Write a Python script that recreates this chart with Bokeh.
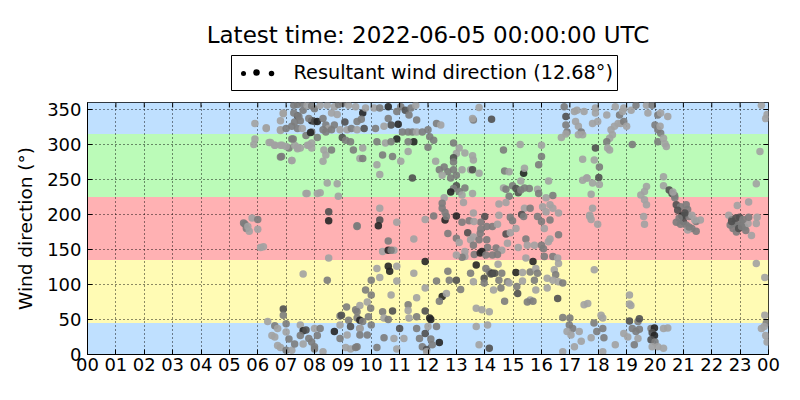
from bokeh.plotting import figure
from bokeh.layouts import column
from bokeh.models import Range1d, FixedTicker, ColumnDataSource
from bokeh.core.properties import value
from bokeh.embed import file_html
from bokeh.resources import INLINE
import sys

FONT = "DejaVu Sans"
AXIS_FONT = "'DejaVu Sans', 'DejaVu Sans Book', sans-serif"

title_text = "Latest time: 2022-06-05 00:00:00 UTC"
legend_text = "Resultant wind direction (12.68°)"
y_label = "Wind direction (°)"

hour_min, hour_max = 0, 24
dir_min, dir_max = 0, 360
x_ticks = list(range(0, 25))
x_tick_labels = {h: "%02d" % (h % 24) for h in x_ticks}
y_ticks = [0, 50, 100, 150, 200, 250, 300, 350]

band_lo = [0, 45, 135, 225, 315]
band_hi = [45, 135, 225, 315, 360]
band_colors = ["#bfe0ff", "#fffbb4", "#ffb1b3", "#bbfbb8", "#bfe0ff"]

shade_colors = {"K": "#262626", "D": "#505050", "M": "#7c7c7c", "L": "#a2a2a2"}

# ---- observations (hour of day, direction in degrees, shade code) ----
h1 = [5.5, 5.6, 5.7, 5.8, 6.0, 6.0, 6.1, 6.2, 5.55, 5.65]
d1 = [188, 180, 176, 195, 193, 179, 153, 154, 186, 183]
s1 = "MMLLMLLLML"

h2 = [5.9, 6.3, 5.9, 5.86, 6.4, 6.6, 6.8, 6.8, 6.8, 6.9, 6.8, 7.1, 7.2, 7.2, 7.3, 7.4, 7.3, 7.4, 7.5, 7.6, 7.9, 7.8, 7.7, 8.1, 7.9, 8.0]
d2 = [330, 323, 308, 300, 303, 299, 320, 282, 299, 344, 334, 295, 277, 308, 299, 294, 332, 341, 334, 349, 318, 299, 230, 230, 334, 351]
s2 = "LLLLLLLMLLLMLMLLMDMMMLLLKM"

h3 = [7.27, 7.4, 7.57, 7.74, 7.9, 8.2, 8.45, 8.7, 8.85, 9.0, 9.2, 9.45, 6.9, 7.27, 7.45, 7.8, 8.0, 8.1, 8.3, 8.4, 8.5, 8.7, 8.9, 9.15, 9.3, 9.5, 9.07, 8.8, 8.6]
d3 = [356, 357, 359, 356, 355, 356, 356, 354, 357, 359, 356, 354, 345, 345, 340, 337, 333, 333, 337, 328, 323, 328, 321, 321, 323, 333, 332, 343, 345]
s3 = "MMMLMLLLMMLLLMMMDKMMLMLLMMDLL"

h4 = [6.3, 6.8, 7.0, 7.2, 7.4, 7.57, 7.7, 7.86, 8.1, 7.9, 7.75, 7.9, 8.3, 8.4, 8.6, 8.98, 9.27, 9.1, 6.45, 6.6, 6.86, 7.0, 7.25, 7.4, 7.5, 6.84, 7.2, 8.33, 8.4, 8.3, 8.6, 9.37, 9.6]
d4 = [324, 321, 323, 326, 323, 323, 313, 317, 310, 302, 299, 295, 321, 318, 321, 310, 304, 306, 303, 299, 299, 297, 308, 296, 295, 283, 277, 292, 285, 276, 292, 292, 280]
s4 = "LLMMMLMKMLLLMMMDMMLLLLMLLMLLLLMML"

h5 = [8.45, 8.8, 7.74, 8.2, 8.84, 8.5, 8.5, 9.5, 8.5, 7.6, 8.45]
d5 = [245, 244, 230, 231, 226, 204, 191, 184, 138, 115, 106]
s5 = "LLLLLDKMLLM"

h6 = [6.35, 6.6, 6.7, 6.5, 6.6, 6.9, 6.9, 7.0, 7.0, 7.1, 6.7, 6.8, 7.0, 7.2, 7.3, 7.5, 7.6, 7.5, 7.6, 7.9, 8.0, 8.0, 8.1]
d6 = [47, 41, 37, 27, 25, 65, 56, 44, 32, 22, 13, 10, 6, 6, 15, 42, 34, 27, 15, 18, 8, 37, 27]
s6 = "LMLLLDMMLMLLMLMLKMLMMLM"

h7 = [7.7, 7.8, 8.2, 8.3, 8.7, 8.9, 8.9, 8.95, 9.13, 9.2, 9.27, 9.45, 9.5, 9.6, 9.15, 8.9, 9.1, 9.27, 9.45, 8.0]
d7 = [35, 23, 37, 4, 33, 55, 42, 56, 68, 49, 40, 64, 52, 37, 28, 23, 10, 8, 10, 11]
s7 = "DMMLKMLDMMDMMMLMLLMM"

h8 = [9.7, 9.65, 9.8, 10.1, 10.3, 10.6, 10.9, 11.04, 11.2, 11.4,
      11.57, 11.33, 11.6, 10.6, 10.7, 10.95, 10.45, 10.15, 9.5, 9.75,
      11.1, 11.3, 11.45, 11.6, 11.8, 12.0, 12.3, 12.45, 12.06, 12.2,
      10.9, 10.2, 10.5, 10.7, 11.5, 11.3, 12.0, 12.9, 13.0, 12.9,
      12.9, 13.1, 13.3, 13.6, 13.6]
d8 = [345, 336, 352, 352, 352, 354, 347, 354, 349, 352,
      356, 342, 335, 337, 328, 329, 326, 323, 321, 323,
      318, 318, 318, 318, 318, 321, 330, 328, 311, 306,
      308, 304, 302, 304, 304, 304, 296, 302, 287, 281,
      275, 295, 288, 335, 278]
s8 = "KMLLMKMMDM" "LMMMDKLMLD" "MMMLMMMLMM" "KMLMKMMMLD" "MLLML"

h9 = [9.7, 9.7, 10.4, 10.75, 11.04, 11.3, 10.2, 10.3, 11.45, 12.27,
      12.57, 12.4, 12.7, 12.5, 12.9, 13.0, 13.2, 13.5, 12.8, 13.0,
      12.9, 12.8, 13.1, 13.3, 13.2, 12.57, 12.5, 12.5, 12.6, 13.25,
      13.6]
d9 = [295, 280, 285, 283, 276, 290, 271, 257, 252, 276,
      268, 264, 261, 256, 264, 256, 264, 264, 252, 241,
      237, 232, 233, 238, 228, 224, 216, 209, 203, 217,
      202]
s9 = "LMMMLLLLDL" "MMMLMMLLMD" "MKMMLLMMML" "L"

h10 = [10.3, 10.3, 10.25, 9.5, 10.9, 11.9, 12.2, 12.6, 12.65, 13.0,
       13.2, 13.45, 12.7, 13.0, 13.4, 13.1, 13.5, 10.6, 11.5, 10.4,
       10.6, 10.8, 10.7, 13.3, 13.3, 13.2, 13.0, 13.6, 11.9]
d10 = [209, 192, 184, 183, 189, 193, 198, 192, 197, 198,
       189, 191, 173, 166, 174, 160, 164, 162, 165, 147,
       149, 149, 149, 147, 140, 139, 142, 156, 133]
s10 = "LDKMLLMKMK" "MMMMDLLMLL" "KLMLLMLMK"

h11 = [10.6, 10.65, 10.9, 10.2, 10.3, 10.0, 10.9, 11.5, 12.3, 12.7,
       12.75, 13.0, 13.5, 13.6, 9.8, 10.0, 10.7, 11.9, 11.6, 12.5,
       12.4, 12.65, 13.15]
d11 = [126, 119, 126, 123, 110, 106, 105, 116, 105, 119,
       106, 106, 116, 104, 92, 85, 85, 95, 81, 83,
       76, 87, 93]
s11 = "KKLLLMLLMM" "MDMLMMLLLK" "MLM"

h12 = [9.86, 9.98, 9.6, 9.5, 9.9, 9.6, 9.7, 9.6, 10.0, 10.4,
       10.75, 10.45, 10.6, 11.3, 11.3, 11.33, 11.6, 11.9, 12.06, 12.1,
       12.3, 12.0, 11.6, 11.0, 9.6, 9.86, 10.45, 10.8, 11.15, 11.7,
       11.9, 12.1, 12.4, 9.5, 10.2, 10.9, 11.8, 11.95, 12.15, 11.95]
d12 = [75, 66, 70, 61, 54, 49, 47, 37, 42, 61,
       62, 52, 50, 71, 63, 52, 54, 62, 52, 50,
       40, 40, 37, 37, 28, 28, 24, 23, 23, 23,
       30, 22, 17, 11, 10, 8, 11, 7, 14, 4]
s12 = "LMLMMKMLMM" "DLMMLLMDKK" "MLMDMMMLLM" "DMKMMLMDML"

h13 = [13.57, 14.24, 13.8, 16.8, 16.86, 16.86, 16.9, 16.86, 16.7, 17.16,
       17.25, 17.2, 17.3, 17.4, 17.45, 17.3, 17.5]
d13 = [337, 336, 353, 354, 340, 328, 318, 315, 310, 347,
       349, 333, 326, 318, 314, 314, 347]
s13 = "LDLMDMMLLL" "LLLMLLL"

h14 = [15.25, 14.66, 16.0, 16.0, 15.9, 13.57, 13.57, 13.8, 14.7, 14.86,
       15.37, 15.4, 15.27, 16.25, 17.45, 17.45, 17.6]
d14 = [300, 292, 299, 283, 271, 284, 264, 259, 262, 261,
       259, 266, 248, 248, 279, 249, 252]
s14 = "LMLMMLDLML" "KLLLLLL"

h15 = [14.66, 14.75, 14.98, 15.1, 15.18, 15.27, 15.4, 15.57, 15.86, 15.9,
       16.16, 16.4, 14.86, 14.75, 14.5, 13.57]
d15 = [238, 236, 241, 237, 231, 235, 238, 237, 236, 230,
       224, 227, 226, 217, 215, 230]
s15 = "LMMDDMMMLM" "LMMLLL"

h16 = [15.4, 15.6, 16.04, 16.3, 16.4, 16.16, 16.6, 14.5, 14.9, 15.3,
       15.37, 15.86, 16.0, 16.3, 14.0, 13.86, 13.62, 14.27, 14.45, 14.07,
       14.98, 15.1, 16.1, 17.7]
d16 = [209, 209, 211, 214, 209, 204, 202, 199, 196, 200,
       197, 197, 190, 192, 197, 189, 190, 183, 186, 183,
       191, 180, 180, 197]
s16 = "LMLLLLLLMD" "MMMMDMLMLM" "MLLL"

h17 = [13.86, 13.84, 14.75, 14.9, 13.6, 13.8, 14.07, 14.8, 15.45, 15.75,
       16.0, 16.24, 16.3, 16.6, 14.1, 14.4, 14.6, 15.18, 15.5, 16.07,
       13.63, 13.84, 13.9, 14.04, 14.27, 14.45, 15.45, 16.1, 16.4, 16.57]
d17 = [179, 173, 172, 174, 168, 164, 164, 159, 165, 156,
       156, 161, 165, 171, 153, 152, 149, 153, 156, 151,
       143, 145, 147, 142, 142, 143, 138, 140, 140, 138]
s17 = "MMDLLMMLML" "MLLMMMLLLM" "MKKMMMLMML"

h18 = [13.7, 14.04, 14.47, 14.16, 14.27, 14.22, 14.35, 14.6, 13.98, 14.5,
       14.8, 15.1, 15.33, 15.7, 15.6, 15.8, 15.86, 15.75, 15.33, 16.45,
       16.5, 16.6, 16.4, 16.6, 16.2, 16.75, 13.98, 14.31, 14.57, 14.86,
       15.13, 15.16, 15.8, 15.6, 15.5, 15.7, 16.57, 16.2, 14.7, 13.7,
       13.9, 14.16, 17.5, 16.75]
d18 = [128, 123, 129, 118, 116, 115, 116, 116, 109, 106,
       104, 117, 117, 133, 118, 123, 116, 106, 105, 121,
       114, 130, 106, 104, 109, 102, 102, 92, 95, 102,
       97, 87, 92, 78, 75, 76, 80, 95, 76, 66,
       64, 61, 71, 53]
s18 = "KMLMKDDMDM" "MKLKMLMMLL" "MLLLLMMLML" "MDLLMMDLML" "LLLM"

h19 = [17.0, 16.98, 17.1, 16.9, 17.04, 17.33, 17.4, 17.16, 16.75, 13.7, 14.1, 13.8, 14.16]
d19 = [52, 42, 37, 33, 28, 33, 19, 11, 4, 40, 42, 14, 9]
s19 = "MMMLLLLLLLLLD"

h20 = [17.9, 17.9, 18.3, 18.6, 18.75, 18.86, 18.9, 19.16, 19.33, 19.7,
       19.9, 19.75, 20.1, 20.2, 20.45, 17.8, 17.98, 18.45, 18.57, 18.7,
       18.8, 18.9, 19.0, 18.5, 18.4, 18.3, 18.33, 18.4, 19.2, 20.0,
       20.1, 20.2, 20.18, 20.1, 20.3, 20.4, 20.35]
d20 = [352, 345, 342, 354, 342, 347, 352, 349, 356, 356,
       356, 345, 342, 345, 340, 330, 333, 321, 326, 330,
       330, 333, 326, 314, 309, 304, 295, 292, 300, 328,
       321, 316, 326, 304, 309, 297, 301]
s20 = "LLLLMLLLML" "MLMLLLLLLL" "LMLLLMLLMM" "MMLMLLL"

h21 = [17.9, 17.86, 18.04, 18.02, 17.6, 17.8, 18.04, 17.75, 20.3, 20.3,
       19.7, 19.63, 19.5, 19.63, 19.7, 20.5, 20.6, 20.7]
d21 = [295, 278, 268, 253, 252, 245, 243, 229, 254, 241,
       240, 233, 228, 221, 214, 235, 230, 224]
s21 = "DLMDLLLLLL" "LLLLLDDM"

h22 = [17.8, 17.7, 17.75, 17.98, 19.6, 19.63, 20.75, 20.9, 20.8, 21.1,
       21.15, 20.95, 21.04, 20.75, 21.0, 21.2, 21.3, 21.45, 21.6, 21.1,
       21.3, 21.45, 21.15, 20.9, 20.69, 20.63, 21.2, 21.4, 20.85, 21.05]
d22 = [209, 199, 193, 186, 197, 186, 214, 211, 206, 214,
       207, 198, 199, 189, 190, 197, 199, 190, 192, 185,
       180, 176, 178, 186, 227, 232, 182, 192, 195, 202]
s22 = "LLLLLLDMDM" "MKDMDMLMLM" "MMLMMLMLMD"

h23 = [17.86, 19.1, 19.1, 19.15, 18.1, 18.16, 17.63]
d23 = [121, 85, 72, 70, 56, 52, 73]
s23 = "LLLLLLL"

h24 = [19.1, 19.4, 19.45, 19.2, 19.33, 19.4, 19.27, 19.04, 18.9, 19.45,
       19.86, 19.98, 19.9, 19.98, 19.86, 20.0, 19.9, 20.1, 20.3, 20.3,
       20.45, 18.16, 18.2, 17.75, 18.6, 18.16, 17.85, 17.95]
d24 = [48, 47, 51, 37, 33, 23, 14, 25, 30, 36,
       37, 38, 31, 27, 21, 18, 11, 11, 9, 37,
       38, 37, 24, 24, 14, 4, 45, 33]
s24 = "DMDMMLMLLM" "MKDKDMLLLL" "LMMLLLMM"

h25 = [22.6, 22.7, 22.8, 22.75, 22.9, 22.98, 23.04, 23.16, 23.2, 23.28,
       23.3, 22.9, 23.3, 23.4, 23.6, 23.57, 22.65, 22.87, 22.85, 23.1,
       22.95, 23.05, 22.7]
d25 = [199, 192, 187, 180, 185, 196, 189, 182, 177, 187,
       196, 213, 218, 170, 196, 187, 185, 175, 195, 193,
       180, 183, 190]
s25 = "LMDMMDMMML" "MLLLLLMMDM" "DMD"

h26 = [23.75, 23.9, 23.95, 23.7, 23.57, 23.57, 23.87, 23.87, 23.75, 23.9, 23.92, 23.85, 23.95]
d26 = [356, 337, 343, 290, 244, 130, 110, 56, 37, 27, 45, 40, 18]
s26 = "LLLLLLLLLLMLL"

groups = [(h1, d1, s1), (h2, d2, s2), (h3, d3, s3), (h4, d4, s4), (h5, d5, s5),
          (h6, d6, s6), (h7, d7, s7), (h8, d8, s8), (h9, d9, s9), (h10, d10, s10),
          (h11, d11, s11), (h12, d12, s12), (h13, d13, s13), (h14, d14, s14),
          (h15, d15, s15), (h16, d16, s16), (h17, d17, s17), (h18, d18, s18),
          (h19, d19, s19), (h20, d20, s20), (h21, d21, s21), (h22, d22, s22),
          (h23, d23, s23), (h24, d24, s24), (h25, d25, s25), (h26, d26, s26)]

hours, dirs, cols = [], [], []
for i, (hh, dd, ss) in enumerate(groups):
    n = min(len(hh), len(dd), len(ss))
    if not (len(hh) == len(dd) == len(ss)):
        print("group", i + 1, "length mismatch", len(hh), len(dd), len(ss), file=sys.stderr)
    hours += hh[:n]
    dirs += dd[:n]
    cols += [shade_colors[c] for c in ss[:n]]

W = 792
HEADER_H = 100
MAIN_H = 292
BORDER_L, BORDER_R, BORDER_T, BORDER_B = 87, 24, 2, 38
FRAME_W = W - BORDER_L - BORDER_R
FRAME_H = MAIN_H - BORDER_T - BORDER_B
TICK_PX = 5

# ---------------- header: title + legend ----------------
# the column aligns the header's frame with the plot frame below, so the
# header's x range spans the same pixel columns as the plot frame
hdr = figure(width=W, height=HEADER_H, x_range=Range1d(BORDER_L, W - BORDER_R), y_range=Range1d(HEADER_H, 0),
             toolbar_location=None, output_backend="svg", min_border=0)
hdr.axis.visible = False
hdr.grid.visible = False
hdr.outline_line_color = None
cx = BORDER_L + FRAME_W / 2
hdr.text(x=[cx], y=[34], text=[title_text], text_font=value(FONT),
         text_font_size="23px", text_align="center", text_baseline="middle", text_color="black")
hdr.quad(left=[231], right=[617], top=[55], bottom=[90], fill_color=None, line_color="black", line_width=1)
hdr.scatter(x=[243, 256, 271], y=[73, 72, 73], size=[5, 6.5, 5.5], fill_color="black", line_color=None)
hdr.text(x=[293], y=[72], text=[legend_text], text_font=value(FONT),
         text_font_size="19.3px", text_align="left", text_baseline="middle", text_color="black")

# ---------------- main plot ----------------
p = figure(width=W, height=MAIN_H, x_range=Range1d(hour_min, hour_max), y_range=Range1d(dir_min, dir_max),
           toolbar_location=None, output_backend="svg",
           min_border_left=BORDER_L, min_border_right=BORDER_R,
           min_border_top=BORDER_T, min_border_bottom=BORDER_B)

p.quad(left=[hour_min] * len(band_lo), right=[hour_max] * len(band_lo), bottom=band_lo, top=band_hi,
       fill_color=band_colors, line_color=None, level="underlay")

src = ColumnDataSource(dict(x=hours, y=dirs, c=cols))
p.scatter("x", "y", source=src, size=7.5, fill_color="c", line_color=None, fill_alpha=0.9)

# inward ticks on the top and right edges
dx = (hour_max - hour_min) / FRAME_W * TICK_PX
dy = (dir_max - dir_min) / FRAME_H * TICK_PX
p.segment(x0=x_ticks, x1=x_ticks, y0=[dir_max] * len(x_ticks), y1=[dir_max - dy] * len(x_ticks),
          line_color="black", line_width=1)
p.segment(x0=[hour_max] * len(y_ticks), x1=[hour_max - dx] * len(y_ticks), y0=y_ticks, y1=y_ticks,
          line_color="black", line_width=1)

p.outline_line_color = "black"
p.outline_line_width = 1
p.outline_line_alpha = 1

p.xaxis.ticker = FixedTicker(ticks=x_ticks)
p.xaxis.major_label_overrides = x_tick_labels
p.yaxis.ticker = FixedTicker(ticks=y_ticks)
p.yaxis.axis_label = y_label

for ax in [p.xaxis[0], p.yaxis[0]]:
    ax.major_label_text_font = AXIS_FONT
    ax.major_label_text_font_size = "18px"
    ax.major_label_text_color = "black"
    ax.axis_line_color = "black"
    ax.major_tick_in = TICK_PX
    ax.major_tick_out = 0
    ax.major_tick_line_color = "black"
    ax.minor_tick_line_color = None
p.xaxis.major_label_standoff = 3
p.yaxis.major_label_standoff = 6
p.yaxis.axis_label_text_font = AXIS_FONT
p.yaxis.axis_label_text_font_size = "18.5px"
p.yaxis.axis_label_text_font_style = "normal"
p.yaxis.axis_label_text_color = "black"
p.yaxis.axis_label_standoff = 8

p.xgrid.ticker = FixedTicker(ticks=x_ticks)
p.ygrid.ticker = FixedTicker(ticks=y_ticks)
p.grid.grid_line_color = "black"
p.grid.grid_line_dash = "1 3"
p.grid.grid_line_width = 1
p.grid.grid_line_alpha = 0.9

layout = column(hdr, p, spacing=0)
open("out.html", "w").write(file_html(layout, INLINE))
